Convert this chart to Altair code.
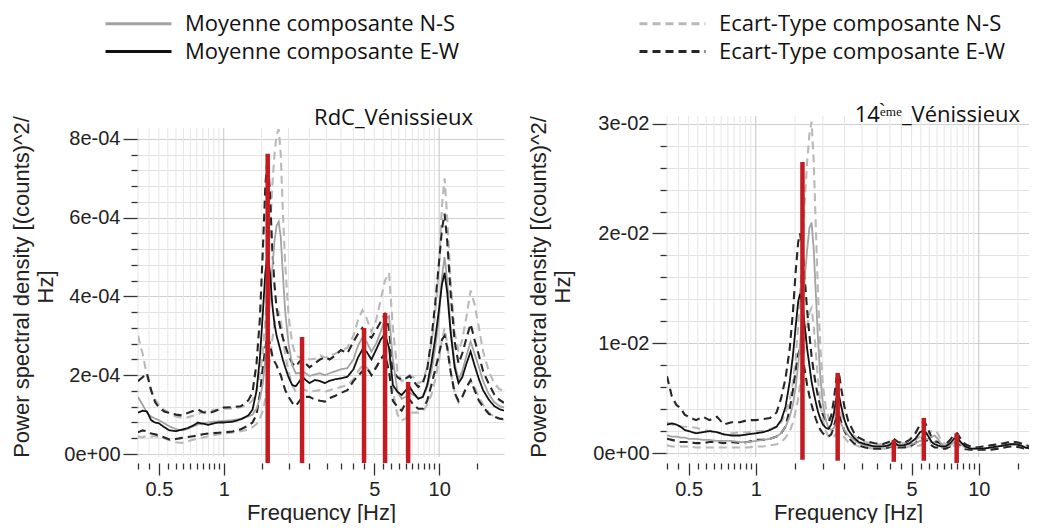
import altair as alt
import pandas as pd

# ---------------- series labels / colours ----------------
S_NS_MEAN = "Moyenne composante N-S"
S_EW_MEAN = "Moyenne composante E-W"
S_NS_STD = "Ecart-Type composante N-S"
S_EW_STD = "Ecart-Type composante E-W"
SERIES = [S_NS_MEAN, S_EW_MEAN, S_NS_STD, S_EW_STD]
SERIES_COLORS = ["#a3a3a3", "#111111", "#b9b9b9", "#262626"]
SERIES_DASH = [[1, 0], [1, 0], [8, 5], [8, 5]]
RED = "#c41b20"

X_TICKS = [0.4, 0.45, 0.5, 0.55, 0.6, 0.65, 0.7, 0.75, 0.8, 0.85, 0.9, 0.95, 1,
           1.5, 2, 2.5, 3, 3.5, 4, 4.5, 5, 5.5, 6, 6.5, 7, 7.5, 8, 8.5, 9, 9.5, 10, 15]

# ---------------- left panel : RdC_Vénissieux (values in 1e-04) ----------------
L_FREQ = [0.40, 0.42, 0.44, 0.46, 0.48, 0.50, 0.53, 0.56, 0.60, 0.64, 0.68, 0.72, 0.76, 0.80,
          0.85, 0.90, 0.95, 1.00, 1.10, 1.20, 1.30, 1.36, 1.42, 1.47, 1.52, 1.56, 1.60,
          1.64, 1.68, 1.72, 1.76, 1.80, 1.84, 1.88, 1.93, 2.00, 2.08, 2.16, 2.25, 2.32, 2.40,
          2.50, 2.65, 2.80, 2.95, 3.10, 3.30, 3.50, 3.75, 4.00, 4.20, 4.40, 4.60, 4.85, 5.10,
          5.35, 5.60, 5.85, 6.10, 6.40, 6.70, 7.00, 7.30, 7.60, 8.00, 8.40, 8.80, 9.20, 9.60,
          10.0, 10.3, 10.6, 10.9, 11.3, 11.8, 12.3, 12.8, 13.4, 14.0, 14.6, 15.3, 16.0, 17.0,
          18.0, 19.0, 20.0]
L_EW_MEAN = [1.05, 1.10, 1.08, 0.86, 0.80, 0.78, 0.68, 0.60, 0.58, 0.62, 0.66, 0.72, 0.80, 0.77,
             0.74, 0.78, 0.80, 0.80, 0.82, 0.88, 0.98, 1.12, 1.60, 2.40, 3.60, 4.60, 5.10,
             4.60, 3.80, 3.30, 3.00, 2.80, 2.60, 2.40, 2.20, 1.95, 1.75, 1.72, 1.85, 1.96, 1.88,
             1.80, 1.88, 1.85, 1.80, 1.86, 1.90, 1.92, 1.96, 2.15, 2.45, 2.65, 2.60, 2.40, 2.65,
             2.90, 3.05, 2.70, 1.75, 1.58, 1.50, 1.62, 1.70, 1.55, 1.40, 1.45, 1.75, 2.30, 2.95,
             3.70, 4.30, 4.60, 4.10, 3.10, 2.20, 1.80, 1.95, 2.30, 2.60, 2.25, 1.90, 1.62, 1.38,
             1.22, 1.14, 1.10]
L_EW_UP = [1.85, 1.95, 2.05, 1.62, 1.32, 1.18, 1.08, 1.04, 1.00, 0.98, 1.04, 1.09, 1.13, 1.06,
           1.04, 1.08, 1.13, 1.18, 1.19, 1.21, 1.36, 1.56, 2.30, 3.40, 5.20, 6.80, 7.60,
           6.60, 5.20, 4.30, 3.70, 3.40, 3.15, 2.95, 2.75, 2.50, 2.30, 2.22, 2.35, 2.40, 2.30,
           2.20, 2.30, 2.40, 2.46, 2.40, 2.50, 2.64, 2.56, 2.85, 3.05, 3.20, 3.05, 2.95, 3.15,
           3.35, 3.55, 3.20, 2.10, 1.95, 1.88, 1.92, 1.98, 1.85, 1.70, 1.80, 2.15, 2.90, 3.85,
           4.90, 5.70, 6.10, 5.40, 4.10, 2.85, 2.30, 2.55, 2.95, 3.30, 2.90, 2.50, 2.10, 1.78,
           1.52, 1.38, 1.30]
L_EW_LOW = [0.55, 0.60, 0.58, 0.52, 0.50, 0.47, 0.42, 0.37, 0.38, 0.41, 0.43, 0.45, 0.47, 0.50,
            0.52, 0.53, 0.54, 0.55, 0.57, 0.63, 0.72, 0.80, 1.00, 1.50, 2.20, 2.70, 3.00,
            2.80, 2.50, 2.35, 2.25, 2.10, 2.00, 1.82, 1.62, 1.45, 1.30, 1.22, 1.35, 1.45, 1.45,
            1.45, 1.38, 1.35, 1.33, 1.42, 1.48, 1.55, 1.62, 1.85, 1.98, 2.10, 2.20, 2.00, 2.20,
            2.40, 2.55, 2.10, 1.35, 1.20, 1.10, 1.30, 1.38, 1.25, 1.15, 1.15, 1.35, 1.75, 2.15,
            2.55, 2.90, 3.00, 2.70, 2.10, 1.55, 1.35, 1.45, 1.70, 1.88, 1.62, 1.35, 1.20, 1.02,
            0.95, 0.90, 0.88]
L_NS_MEAN = [1.45, 1.25, 1.05, 0.95, 0.90, 0.86, 0.78, 0.70, 0.63, 0.60, 0.64, 0.70, 0.75, 0.78,
             0.80, 0.82, 0.83, 0.84, 0.86, 0.89, 0.95, 1.00, 1.15, 1.40, 1.80, 2.40, 3.10,
             3.90, 4.70, 5.40, 5.80, 5.90, 5.50, 4.60, 3.60, 2.80, 2.25, 2.05, 2.05, 2.10, 2.05,
             1.98, 2.02, 2.05, 2.00, 2.05, 2.10, 2.15, 2.18, 2.40, 2.75, 2.95, 2.85, 2.60, 2.80,
             3.10, 3.40, 3.50, 2.40, 1.60, 1.40, 1.45, 1.55, 1.50, 1.42, 1.45, 1.70, 2.10, 2.70,
             3.50, 4.50, 5.00, 4.40, 3.20, 2.30, 1.90, 2.10, 2.50, 2.85, 2.55, 2.20, 1.85, 1.52,
             1.32, 1.22, 1.18]
L_NS_UP = [3.00, 2.55, 2.00, 1.62, 1.38, 1.26, 1.12, 1.03, 0.95, 0.92, 0.93, 0.97, 1.02, 1.06,
           1.10, 1.12, 1.12, 1.15, 1.16, 1.19, 1.26, 1.36, 1.62, 2.00, 2.60, 3.40, 4.40,
           5.60, 6.80, 7.60, 8.10, 8.25, 7.60, 6.20, 4.80, 3.50, 2.80, 2.50, 2.45, 2.50, 2.45,
           2.40, 2.42, 2.50, 2.45, 2.48, 2.55, 2.62, 2.70, 3.00, 3.40, 3.65, 3.45, 3.10, 3.40,
           3.90, 4.40, 4.60, 3.20, 2.10, 1.85, 1.90, 2.00, 1.95, 1.80, 1.85, 2.20, 2.80, 3.60,
           4.80, 6.30, 7.00, 6.00, 4.40, 3.10, 2.60, 2.90, 3.50, 4.15, 3.80, 3.20, 2.60, 2.10,
           1.80, 1.65, 1.60]
L_NS_LOW = [0.45, 0.42, 0.46, 0.44, 0.46, 0.43, 0.40, 0.35, 0.30, 0.28, 0.32, 0.36, 0.40, 0.42,
            0.45, 0.48, 0.50, 0.52, 0.55, 0.58, 0.62, 0.68, 0.76, 0.90, 1.10, 1.40, 1.90,
            2.40, 2.90, 3.30, 3.50, 3.60, 3.40, 3.00, 2.50, 2.10, 1.75, 1.58, 1.60, 1.65, 1.62,
            1.58, 1.60, 1.62, 1.58, 1.62, 1.66, 1.70, 1.75, 1.90, 2.10, 2.25, 2.20, 2.05, 2.20,
            2.40, 2.55, 2.50, 1.60, 1.00, 0.85, 0.90, 1.05, 1.05, 1.05, 1.08, 1.25, 1.50, 1.90,
            2.40, 2.90, 3.20, 2.80, 2.10, 1.55, 1.30, 1.45, 1.70, 1.85, 1.70, 1.45, 1.25, 1.05,
            0.95, 0.90, 0.88]
L_PEAK_FREQ = [1.60, 2.31, 4.48, 5.61, 7.18]
L_PEAK_TOP = [7.62, 2.97, 3.20, 3.58, 1.83]
L_PEAK_BOTTOM = [-0.23, -0.23, -0.23, -0.23, -0.23]
L_Y_TICKS = [0, 0.4, 0.8, 1.2, 1.6, 2, 2.4, 2.8, 3.2, 3.6, 4, 4.4, 4.8, 5.2, 5.6, 6,
             6.4, 6.8, 7.2, 7.6, 8]

# ---------------- right panel : 14ème_Vénissieux (values in 1e-02) ----------------
R_FREQ = [0.40, 0.42, 0.44, 0.46, 0.48, 0.50, 0.54, 0.58, 0.62, 0.67, 0.72, 0.78, 0.85, 0.92,
          1.00, 1.08, 1.16, 1.24, 1.30, 1.36, 1.42, 1.47, 1.51, 1.55, 1.58, 1.62, 1.66, 1.70,
          1.74, 1.78, 1.82, 1.86, 1.90, 1.95, 2.00, 2.06, 2.12, 2.18, 2.24, 2.30, 2.36, 2.42,
          2.50, 2.60, 2.75, 2.90, 3.10, 3.40, 3.70, 3.95, 4.15, 4.35, 4.60, 4.90, 5.20, 5.45,
          5.70, 5.95, 6.15, 6.35, 6.55, 6.80, 7.10, 7.45, 7.75, 8.00, 8.30, 8.70, 9.20, 9.80,
          10.5, 11.3, 12.2, 13.0, 13.8, 14.6, 15.4, 16.2, 17.2]
R_EW_MEAN = [0.26, 0.27, 0.26, 0.24, 0.21, 0.20, 0.18, 0.19, 0.20, 0.19, 0.17, 0.16, 0.16, 0.17,
             0.18, 0.19, 0.21, 0.24, 0.30, 0.42, 0.65, 0.90, 1.15, 1.38, 1.45, 1.35, 1.15, 0.95,
             0.80, 0.65, 0.55, 0.46, 0.38, 0.31, 0.26, 0.23, 0.22, 0.26, 0.36, 0.50, 0.53, 0.42,
             0.30, 0.21, 0.14, 0.10, 0.08, 0.06, 0.06, 0.07, 0.10, 0.07, 0.07, 0.09, 0.13, 0.19,
             0.21, 0.15, 0.10, 0.08, 0.07, 0.06, 0.06, 0.09, 0.13, 0.14, 0.10, 0.06, 0.04, 0.04,
             0.04, 0.05, 0.06, 0.07, 0.08, 0.08, 0.07, 0.05, 0.04]
R_EW_UP = [0.70, 0.52, 0.44, 0.41, 0.35, 0.33, 0.30, 0.33, 0.30, 0.33, 0.26, 0.28, 0.28, 0.30,
           0.30, 0.31, 0.32, 0.37, 0.50, 0.68, 0.95, 1.30, 1.65, 1.92, 2.00, 1.85, 1.58, 1.30,
           1.08, 0.88, 0.74, 0.62, 0.52, 0.42, 0.35, 0.30, 0.28, 0.34, 0.48, 0.68, 0.73, 0.58,
           0.42, 0.29, 0.19, 0.14, 0.11, 0.09, 0.08, 0.10, 0.13, 0.10, 0.09, 0.12, 0.18, 0.26,
           0.29, 0.21, 0.14, 0.11, 0.10, 0.08, 0.08, 0.12, 0.17, 0.18, 0.13, 0.08, 0.06, 0.05,
           0.06, 0.07, 0.08, 0.09, 0.10, 0.10, 0.09, 0.07, 0.06]
R_EW_LOW = [0.13, 0.12, 0.11, 0.10, 0.10, 0.10, 0.09, 0.09, 0.10, 0.10, 0.09, 0.10, 0.09, 0.10,
            0.12, 0.12, 0.13, 0.15, 0.18, 0.24, 0.40, 0.58, 0.75, 0.90, 0.95, 0.88, 0.75, 0.62,
            0.52, 0.44, 0.37, 0.31, 0.26, 0.21, 0.18, 0.16, 0.15, 0.17, 0.24, 0.33, 0.35, 0.28,
            0.20, 0.14, 0.09, 0.07, 0.05, 0.04, 0.04, 0.05, 0.07, 0.05, 0.05, 0.06, 0.09, 0.13,
            0.14, 0.10, 0.07, 0.05, 0.05, 0.04, 0.04, 0.06, 0.09, 0.10, 0.07, 0.04, 0.03, 0.03,
            0.03, 0.03, 0.04, 0.05, 0.06, 0.06, 0.05, 0.04, 0.03]
R_NS_MEAN = [0.16, 0.15, 0.15, 0.14, 0.14, 0.13, 0.13, 0.12, 0.12, 0.11, 0.11, 0.11, 0.10, 0.10,
             0.11, 0.12, 0.13, 0.15, 0.18, 0.24, 0.33, 0.45, 0.60, 0.80, 1.00, 1.30, 1.60, 1.85,
             2.05, 2.10, 1.85, 1.45, 1.05, 0.68, 0.45, 0.30, 0.23, 0.21, 0.23, 0.28, 0.30, 0.26,
             0.21, 0.16, 0.12, 0.09, 0.07, 0.06, 0.06, 0.06, 0.07, 0.07, 0.07, 0.08, 0.09, 0.11,
             0.12, 0.13, 0.15, 0.16, 0.13, 0.08, 0.06, 0.07, 0.10, 0.11, 0.08, 0.05, 0.04, 0.04,
             0.04, 0.05, 0.06, 0.07, 0.08, 0.08, 0.07, 0.05, 0.04]
R_NS_UP = [0.28, 0.26, 0.25, 0.24, 0.24, 0.24, 0.23, 0.21, 0.20, 0.19, 0.17, 0.18, 0.19, 0.19,
           0.20, 0.20, 0.22, 0.24, 0.28, 0.36, 0.48, 0.65, 0.85, 1.15, 1.45, 1.85, 2.30, 2.65,
           2.90, 3.02, 2.65, 2.05, 1.48, 0.95, 0.62, 0.42, 0.32, 0.29, 0.32, 0.38, 0.40, 0.35,
           0.28, 0.22, 0.16, 0.12, 0.10, 0.08, 0.08, 0.08, 0.10, 0.09, 0.09, 0.10, 0.12, 0.15,
           0.17, 0.18, 0.20, 0.21, 0.18, 0.11, 0.08, 0.10, 0.14, 0.15, 0.11, 0.07, 0.06, 0.05,
           0.06, 0.07, 0.08, 0.09, 0.11, 0.10, 0.09, 0.07, 0.06]
R_NS_LOW = [0.07, 0.06, 0.06, 0.06, 0.06, 0.06, 0.05, 0.05, 0.05, 0.05, 0.05, 0.05, 0.05, 0.05,
            0.06, 0.06, 0.07, 0.08, 0.10, 0.14, 0.20, 0.28, 0.38, 0.50, 0.62, 0.80, 1.00, 1.15,
            1.28, 1.32, 1.15, 0.92, 0.68, 0.45, 0.30, 0.20, 0.15, 0.14, 0.15, 0.18, 0.19, 0.17,
            0.14, 0.10, 0.08, 0.06, 0.05, 0.04, 0.04, 0.04, 0.05, 0.05, 0.05, 0.06, 0.06, 0.07,
            0.08, 0.09, 0.10, 0.10, 0.08, 0.05, 0.04, 0.05, 0.07, 0.07, 0.05, 0.03, 0.03, 0.03,
            0.03, 0.03, 0.04, 0.05, 0.06, 0.06, 0.05, 0.04, 0.03]
R_PEAK_FREQ = [1.62, 2.33, 4.16, 5.67, 7.96]
R_PEAK_TOP = [2.65, 0.73, 0.12, 0.32, 0.18]
R_PEAK_BOTTOM = [-0.06, -0.07, -0.08, -0.07, -0.09]
R_Y_TICKS = [0, 0.2, 0.4, 0.6, 0.8, 1, 1.2, 1.4, 1.6, 1.8, 2, 2.2, 2.4, 2.6, 2.8, 3]

Y_TITLE = ["Power spectral density [(counts)^2/", "Hz]"]
X_TITLE = "Frequency [Hz]"
AXIS_FONT = "Liberation Sans"
TEXT_FONT = "Open Sans"


def curves_df(freq, ew_m, ew_u, ew_l, ns_m, ns_u, ns_l):
    rows = []
    for serie, band, kind, vals in [
        (S_NS_STD, "up", "std", ns_u), (S_NS_STD, "low", "std", ns_l),
        (S_EW_STD, "up", "std", ew_u), (S_EW_STD, "low", "std", ew_l),
        (S_NS_MEAN, "mean", "mean", ns_m), (S_EW_MEAN, "mean", "mean", ew_m)]:
        for f, v in zip(freq, vals):
            rows.append({"freq": f, "value": v, "serie": serie, "band": band, "kind": kind})
    return pd.DataFrame(rows)


LEGEND = alt.Legend(
    title=None, orient="none", legendX=-12, legendY=-105, columns=2, columnPadding=173,
    rowPadding=4, labelFont=TEXT_FONT, labelFontSize=22, labelLimit=600, labelColor="#111",
    symbolType="M-3,0L3,0", symbolSize=484, symbolStrokeWidth=3, labelOffset=34, padding=0,
)

X_TEST = "(datum.value == 0.5 || datum.value == 1 || datum.value == 5 || datum.value == 10)"


def panel(df, peak_f, peak_top, peak_bot, xdom, ydom, width, height, yticks, ytest, ysuffix,
          gtop, title, ytitle_pad):
    xs = alt.Scale(type="log", domain=xdom, nice=False)
    ys = alt.Scale(domain=ydom, nice=False, zero=False)
    x_axis = alt.Axis(
        values=X_TICKS, grid=False, domain=False, offset=6, labelOverlap=False,
        labelExpr=f"{X_TEST} ? '' + datum.value : ''",
        tickSize={"condition": {"test": X_TEST, "value": 12}, "value": 6},
        tickColor="#333", tickWidth=1.3, labelPadding=4, titlePadding=3, labelFlush=False,
        title=X_TITLE)
    y_axis = alt.Axis(
        values=yticks, grid=True, domain=False, labelOverlap=False, titleLineHeight=24,
        titlePadding=ytitle_pad, labelPadding=3, tickColor="#333", tickWidth=1.3, title=Y_TITLE,
        labelExpr=f"{ytest} ? (datum.value == 0 ? '0e+00' : datum.value + '{ysuffix}') : ''",
        tickSize={"condition": {"test": ytest, "value": 15}, "value": 7},
        gridColor={"condition": {"test": ytest, "value": "#cfcfcf"}, "value": "#e3e3e3"})

    X = alt.X("freq:Q", scale=xs, axis=x_axis, title=X_TITLE)

    grid_df = pd.DataFrame({"freq": X_TICKS})
    grid = alt.Chart(grid_df).mark_rule(strokeWidth=1).encode(
        x=X,
        y=alt.datum(gtop, scale=ys, axis=y_axis, title=Y_TITLE),
        y2=alt.datum(ydom[0]),
        color=alt.condition((alt.datum.freq == 1) | (alt.datum.freq == 10),
                            alt.value("#c4c4c4"), alt.value("#e6e6e6")),
    )
    lines = alt.Chart(df).mark_line(clip=True).encode(
        x=X,
        y=alt.Y("value:Q", scale=ys, axis=y_axis, title=Y_TITLE),
        color=alt.Color("serie:N", scale=alt.Scale(domain=SERIES, range=SERIES_COLORS),
                        legend=LEGEND),
        strokeDash=alt.StrokeDash("serie:N", scale=alt.Scale(domain=SERIES, range=SERIES_DASH),
                                  legend=LEGEND),
        strokeWidth=alt.StrokeWidth("kind:N", scale=alt.Scale(domain=["mean", "std"],
                                                              range=[1.8, 2.1]), legend=None),
        detail="band:N",
        order=alt.Order("freq:Q"),
    )
    pk = pd.DataFrame({"freq": peak_f, "value": peak_bot, "top": peak_top})
    peaks = alt.Chart(pk).mark_rule(color=RED, strokeWidth=4.5).encode(
        x=X,
        y=alt.Y("value:Q", scale=ys, axis=y_axis, title=Y_TITLE),
        y2="top:Q",
    )
    return alt.layer(grid, lines, peaks).properties(width=width, height=height, title=title)


left = panel(curves_df(L_FREQ, L_EW_MEAN, L_EW_UP, L_EW_LOW, L_NS_MEAN, L_NS_UP, L_NS_LOW),
             L_PEAK_FREQ, L_PEAK_TOP, L_PEAK_BOTTOM, [0.4, 20], [-0.076, 8.58], 366, 341,
             L_Y_TICKS, "(datum.value % 2 == 0)", "e-04", 8.28,
             alt.TitleParams("RdC_Vénissieux", anchor="end", dx=-31, offset=-31,
                             baseline="alphabetic", font=TEXT_FONT, fontSize=22,
                             fontWeight="normal", color="#111"), 6)
right = panel(curves_df(R_FREQ, R_EW_MEAN, R_EW_UP, R_EW_LOW, R_NS_MEAN, R_NS_UP, R_NS_LOW),
              R_PEAK_FREQ, R_PEAK_TOP, R_PEAK_BOTTOM, [0.4, 16.8], [-0.036, 3.07], 362, 341,
              R_Y_TICKS, "(datum.value % 1 == 0)", "e-02", 3.07,
              alt.TitleParams("14\u1d49\u0300\u1d50\u1d49_Vénissieux", anchor="end", dx=-9,
                              offset=-30, baseline="alphabetic", font=TEXT_FONT, fontSize=22,
                              fontWeight="normal", color="#111"), 18)

chart = alt.hconcat(left, right, spacing=23).resolve_scale(
    color="shared", strokeDash="shared", strokeWidth="shared"
).resolve_legend(color="shared", strokeDash="shared").properties(
    padding={"left": 2, "top": 3, "right": 0, "bottom": 0}
).configure_view(stroke=None).configure_axis(
    labelFont=AXIS_FONT, labelFontSize=20, labelColor="#222",
    titleFont=AXIS_FONT, titleFontSize=22, titleFontWeight="normal", titleColor="#222",
)

chart.save("out.html", embed_options={"renderer": "svg", "actions": False})
